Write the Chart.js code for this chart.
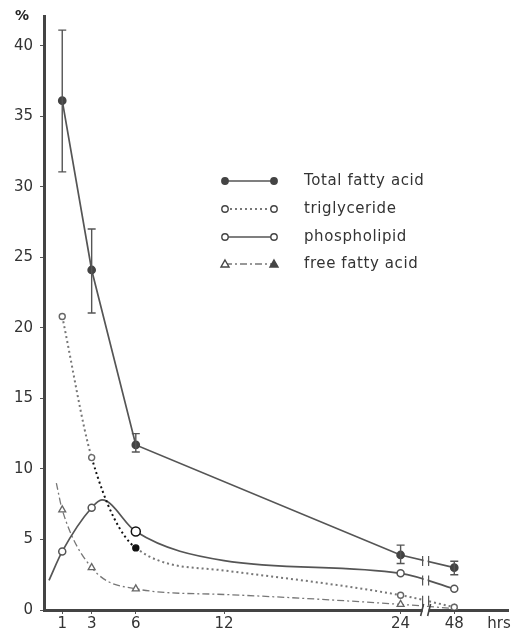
<!DOCTYPE html>
<html>
<head>
<meta charset="utf-8">
<title>Fatty acid fractions</title>
<script src="https://cdn.jsdelivr.net/npm/chart.js@4.4.0/dist/chart.umd.min.js"></script>
<style>
  html, body { margin: 0; padding: 0; background: #fff; }
  #wrap { width: 520px; height: 632px; position: relative; }
</style>
</head>
<body>
<div id="wrap"><canvas id="myChart"></canvas></div>
<script>
'use strict';

// values (% of dose), time in hours
const hours = [1, 3, 6, 24, 48];
const totalFattyAcid = [36.1, 24.1, 11.7, 3.9, 3.0];
const totalHigh = [41.1, 27.0, 12.5, 4.6, 3.45];
const totalLow = [31.05, 21.05, 11.2, 3.3, 2.5];

const trigHours = [1, 3, 6, 12, 24, 48];
const triglyceride = [20.8, 10.8, 4.4, 2.8, 1.05, 0.2];

const phosHours = [0.1, 1, 3, 3.7, 6, 12, 24, 48];
const phospholipid = [2.1, 4.15, 7.25, 7.8, 5.56, 3.5, 2.6, 1.5];

const ffaHours = [0.6, 1, 3, 6, 12, 24, 48];
const freeFattyAcid = [9.0, 7.1, 3.0, 1.5, 1.1, 0.4, 0.1];

const markedHours = [1, 3, 6, 24, 48];
const xTickHours = [1, 3, 6, 12, 24, 48];
const yTickValues = [0, 5, 10, 15, 20, 25, 30, 35, 40];

// axis is broken after 24 h, 48 h sits just past the break
function axisPos(h) {
    return h <= 24 ? h : 24 + (h - 24) * 0.152;
}
const breakPos = 25.7;

function points(xs, ys) {
    return xs.map(function (h, i) { return {x: axisPos(h), y: ys[i]}; });
}
function radii(xs, r) {
    return xs.map(function (h) { return markedHours.indexOf(h) >= 0 ? r : 0; });
}

const FONT = "'DejaVu Sans', sans-serif";

const errorBars = {
    id: 'errorBars',
    afterDatasetsDraw(chart) {
        const ctx = chart.ctx, x = chart.scales.x, y = chart.scales.y;
        ctx.save();
        ctx.strokeStyle = '#555';
        ctx.lineWidth = 1.4;
        hours.forEach(function (h, i) {
            const px = x.getPixelForValue(axisPos(h));
            const top = y.getPixelForValue(totalHigh[i]);
            const bot = y.getPixelForValue(totalLow[i]);
            ctx.beginPath();
            ctx.moveTo(px, top); ctx.lineTo(px, bot);
            ctx.moveTo(px - 4, top); ctx.lineTo(px + 4, top);
            ctx.moveTo(px - 4, bot); ctx.lineTo(px + 4, bot);
            ctx.stroke();
        });
        ctx.restore();
    }
};

const breakMarks = {
    id: 'breakMarks',
    afterDraw(chart) {
        const ctx = chart.ctx, x = chart.scales.x;
        const px = x.getPixelForValue(breakPos);
        ctx.save();
        [0, 1, 2].forEach(function (di) {
            const d = chart.getDatasetMeta(di).data;
            const p0 = d[d.length - 2], p1 = d[d.length - 1];
            const t = (px - p0.x) / (p1.x - p0.x);
            const py = p0.y + t * (p1.y - p0.y);
            ctx.fillStyle = '#fff';
            ctx.fillRect(px - 2, py - 3, 4, 6);
            ctx.strokeStyle = '#555';
            ctx.lineWidth = 1.2;
            ctx.beginPath();
            ctx.moveTo(px - 3, py - 5); ctx.lineTo(px - 3, py + 5);
            ctx.moveTo(px + 3, py - 5); ctx.lineTo(px + 3, py + 5);
            ctx.stroke();
        });
        const ay = chart.chartArea.bottom;
        ctx.fillStyle = '#fff';
        ctx.fillRect(px - 3, ay - 3, 6, 6);
        ctx.strokeStyle = '#444';
        ctx.lineWidth = 1.6;
        ctx.beginPath();
        ctx.moveTo(px - 5, ay + 6); ctx.lineTo(px - 2, ay - 6);
        ctx.moveTo(px + 2, ay + 6); ctx.lineTo(px + 5, ay - 6);
        ctx.stroke();
        ctx.restore();
    }
};

const figureText = {
    id: 'figureText',
    afterDraw(chart) {
        const ctx = chart.ctx;
        ctx.save();
        ctx.fillStyle = '#222';
        ctx.font = 'bold 14px ' + FONT;
        ctx.textAlign = 'center';
        ctx.textBaseline = 'middle';
        ctx.fillText('%', 22, 16);
        ctx.font = '15px ' + FONT;
        ctx.fillStyle = '#333';
        ctx.fillText('hrs', 499, 624);

        // legend
        const rows = [
            {label: 'Total fatty acid', y: 181, ds: 0, left: 'disc', right: 'disc'},
            {label: 'triglyceride', y: 209, ds: 1, left: 'ring', right: 'ring'},
            {label: 'phospholipid', y: 237, ds: 2, left: 'ring', right: 'ring'},
            {label: 'free fatty acid', y: 264, ds: 3, left: 'tri', right: 'trifill'}
        ];
        const x0 = 225, x1 = 274;
        rows.forEach(function (r) {
            const ds = chart.data.datasets[r.ds];
            ctx.strokeStyle = ds.borderColor;
            ctx.lineWidth = ds.borderWidth;
            ctx.setLineDash(ds.borderDash || []);
            ctx.beginPath();
            ctx.moveTo(x0, r.y); ctx.lineTo(x1, r.y);
            ctx.stroke();
            ctx.setLineDash([]);
            [[x0, r.left], [x1, r.right]].forEach(function (m) {
                ctx.lineWidth = 1.4;
                ctx.strokeStyle = '#444';
                ctx.beginPath();
                if (m[1] === 'disc' || m[1] === 'ring') {
                    ctx.arc(m[0], r.y, 3.2, 0, Math.PI * 2);
                } else {
                    ctx.moveTo(m[0], r.y - 4);
                    ctx.lineTo(m[0] + 4, r.y + 3);
                    ctx.lineTo(m[0] - 4, r.y + 3);
                    ctx.closePath();
                }
                ctx.fillStyle = (m[1] === 'disc' || m[1] === 'trifill') ? '#444' : '#fff';
                ctx.fill();
                ctx.stroke();
            });
            ctx.fillStyle = '#333';
            ctx.font = '15px ' + FONT;
            ctx.letterSpacing = '0.6px';
            ctx.textAlign = 'left';
            ctx.fillText(r.label, 304, r.y);
            ctx.letterSpacing = '0px';
        });
        ctx.restore();
    }
};

const ctx = document.getElementById('myChart');

new Chart(ctx, {
    type: 'line',
    data: {
        datasets: [{
            label: 'Total fatty acid',
            data: points(hours, totalFattyAcid),
            borderColor: '#555',
            borderWidth: 1.7,
            tension: 0,
            pointRadius: 3.5,
            pointBackgroundColor: '#444',
            pointBorderColor: '#444'
        }, {
            label: 'triglyceride',
            data: points(trigHours, triglyceride),
            borderColor: '#777',
            borderWidth: 2,
            borderDash: [2, 3],
            cubicInterpolationMode: 'monotone',
            pointRadius: radii(trigHours, 3),
            pointBackgroundColor: trigHours.map(function (h) { return h === 6 ? '#111' : '#fff'; }),
            pointBorderColor: trigHours.map(function (h) { return h === 6 ? '#111' : '#666'; }),
            pointBorderWidth: 1.4,
            segment: {
                borderColor: function (c) { return c.p0DataIndex === 1 ? '#111' : undefined; }
            }
        }, {
            label: 'phospholipid',
            data: points(phosHours, phospholipid),
            borderColor: '#555',
            borderWidth: 1.7,
            cubicInterpolationMode: 'monotone',
            pointRadius: phosHours.map(function (h) { return h === 6 ? 4.5 : (markedHours.indexOf(h) >= 0 ? 3.5 : 0); }),
            pointBackgroundColor: '#fff',
            pointBorderColor: phosHours.map(function (h) { return h === 6 ? '#111' : '#555'; }),
            pointBorderWidth: 1.5
        }, {
            label: 'free fatty acid',
            data: points(ffaHours, freeFattyAcid),
            borderColor: '#777',
            borderWidth: 1.3,
            borderDash: [7, 3, 2, 3],
            cubicInterpolationMode: 'monotone',
            pointStyle: 'triangle',
            pointRadius: radii(ffaHours, 4),
            pointBackgroundColor: '#fff',
            pointBorderColor: '#666',
            pointBorderWidth: 1.3
        }]
    },
    options: {
        responsive: true,
        maintainAspectRatio: false,
        animation: false,
        layout: {padding: {top: 12, right: 12, left: 0, bottom: 0}},
        plugins: {
            legend: {display: false},
            tooltip: {enabled: false}
        },
        scales: {
            x: {
                type: 'linear',
                min: -0.24,
                max: 31.3,
                afterBuildTicks: function (scale) {
                    scale.ticks = xTickHours.map(function (h) { return {value: axisPos(h)}; });
                },
                afterFit: function (scale) { scale.height = 22; },
                ticks: {
                    color: '#333',
                    font: {family: FONT, size: 15},
                    padding: 1,
                    maxRotation: 0,
                    callback: function (v) {
                        const h = xTickHours.find(function (t) { return Math.abs(axisPos(t) - v) < 1e-6; });
                        return h === undefined ? '' : String(h);
                    }
                },
                grid: {display: true, drawOnChartArea: false, drawTicks: true, tickLength: 4, color: '#555'},
                border: {display: true, color: '#444', width: 3}
            },
            y: {
                min: 0,
                max: 42.1,
                afterBuildTicks: function (scale) {
                    scale.ticks = yTickValues.map(function (v) { return {value: v}; });
                },
                afterFit: function (scale) { scale.width = 44; },
                ticks: {
                    color: '#333',
                    font: {family: FONT, size: 15},
                    padding: 7
                },
                grid: {display: true, drawOnChartArea: false, drawTicks: true, tickLength: 4, color: '#555'},
                border: {display: true, color: '#444', width: 3}
            }
        }
    },
    plugins: [errorBars, breakMarks, figureText]
});
</script>
</body>
</html>
